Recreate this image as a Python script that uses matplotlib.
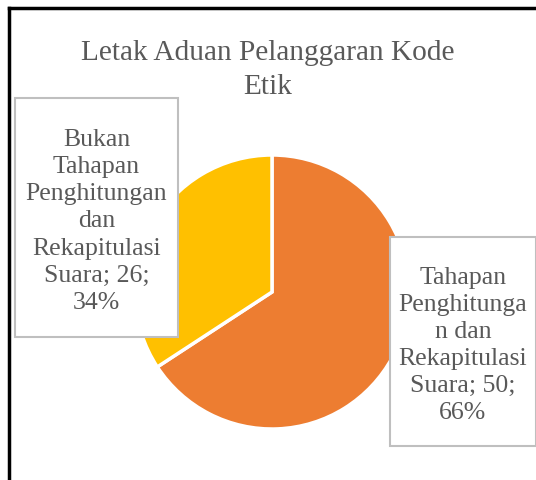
import matplotlib.pyplot as plt
from matplotlib.patches import Rectangle
from matplotlib.lines import Line2D

categories = ["Tahapan Penghitungan dan Rekapitulasi Suara",
              "Bukan Tahapan Penghitungan dan Rekapitulasi Suara"]
values = [50, 26]
colors = ["#ED7D31", "#FFC000"]
# label text as wrapped in the original chart
label_lines = [["Tahapan", "Penghitunga", "n dan", "Rekapitulasi"],
               ["Bukan", "Tahapan", "Penghitungan", "dan", "Rekapitulasi"]]

W, H = 536, 481
fig = plt.figure(figsize=(W / 100, H / 100), dpi=100)
plt.rcParams['font.family'] = ['Liberation Serif', 'DejaVu Serif']
grey = "#595959"


def fx(px):
    return px / W


def fy(py):
    return 1 - py / H


# pie
cx, cy, r = 272, 293, 137
ax = fig.add_axes([fx(cx - r), fy(cy + r), 2 * r / W, 2 * r / H])
ax.pie(values, colors=colors, startangle=90, counterclock=False,
       wedgeprops=dict(edgecolor="white", linewidth=2.5))
ax.set_xlim(-1, 1)
ax.set_ylim(-1, 1)
ax.set_aspect("auto")
ax.axis("off")

# title
fig.text(fx(268), fy(70), "Letak Aduan Pelanggaran Kode\nEtik", ha="center",
         va="center", fontsize=21.2, color=grey, linespacing=1.38)

# data label boxes
total = sum(values)
boxes = [(390, 238, 536, 447), (15, 99, 178, 338)]
for i, (x0, y0, x1, y1) in enumerate(boxes):
    fig.patches.append(Rectangle((fx(x0), fy(y1)), fx(x1) - fx(x0), fy(y0) - fy(y1),
                                 transform=fig.transFigure, facecolor="white",
                                 edgecolor="#BFBFBF", linewidth=1.5, zorder=5))
    pct = round(values[i] / total * 100)
    txt = "\n".join(label_lines[i] + ["Suara; %d;" % values[i], "%d%%" % pct])
    fig.text(fx((x0 + x1) / 2), fy((y0 + y1) / 2 + 3), txt, ha="center", va="center",
             fontsize=18.5, color=grey, linespacing=1.3, zorder=6)

# outer frame (top and left visible)
fig.lines.append(Line2D([fx(9), fx(9)], [0, fy(9)], transform=fig.transFigure,
                        color="black", linewidth=2.5))
fig.lines.append(Line2D([fx(9), 1], [fy(9), fy(9)], transform=fig.transFigure,
                        color="black", linewidth=2.5))

fig.savefig("out.png", dpi=100)
